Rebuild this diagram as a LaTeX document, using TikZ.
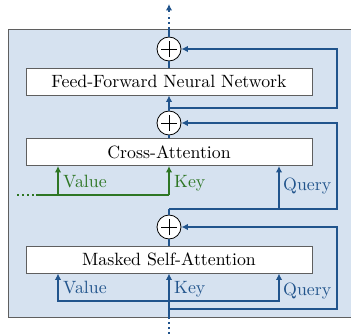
\documentclass[tikz,border=0pt]{standalone}
\usetikzlibrary{arrows.meta}
\definecolor{flowblue}{RGB}{33,84,140}
\definecolor{flowgreen}{RGB}{46,118,36}
\definecolor{panel}{RGB}{214,226,240}
\definecolor{rim}{RGB}{95,95,95}
% 10pt design size, enlarged, keeps the strokes heavy
\newcommand{\bigtxt}[1]{\scalebox{1.78}{#1}}
\begin{document}
\begin{tikzpicture}[x=1pt,y=-1pt,
  font=\fontsize{10}{12}\selectfont,
  layer/.style={draw=rim,line width=0.9pt,fill=white,minimum width=286pt,minimum height=27pt,inner sep=0pt},
  addop/.style={circle,draw=black,line width=0.8pt,fill=white,minimum size=24pt,inner sep=0pt},
  flow/.style={draw=flowblue,line width=1.5pt},
  gflow/.style={draw=flowgreen,line width=1.5pt},
  tip/.style={-{Latex[length=6.5pt,width=6.5pt]}},
  dotline/.style={line width=1.9pt,dash pattern=on 2pt off 3pt},
  lbl/.style={anchor=base west,inner sep=0pt,text=flowblue},
  glbl/.style={anchor=base west,inner sep=0pt,text=flowgreen}]
\useasboundingbox (0,0) rectangle (351,334);
\clip (0,0) rectangle (351,334);

% decoder block panel
\draw[rim,line width=0.9pt,fill=panel] (8,29) rectangle (365,317);

% sub-layers
\node[layer] (ffn) at (169,81.5) {\bigtxt{Feed-Forward Neural Network}};
\node[layer] (ca)  at (169,152)  {\bigtxt{Cross-Attention}};
\node[layer] (msa) at (169,259.5){\bigtxt{Masked Self-Attention}};

% residual additions
\node[addop] (p1) at (169,49)  {};
\node[addop] (p2) at (169,123) {};
\node[addop] (p3) at (169,227) {};
\foreach \p in {p1,p2,p3}{
  \draw[line width=0.8pt] ([xshift=-8pt]\p.center) -- ([xshift=8pt]\p.center);
  \draw[line width=0.8pt] ([yshift=-8pt]\p.center) -- ([yshift=8pt]\p.center);
}

% helper points
\coordinate (top)  at (169,29);
\coordinate (dend) at (169,14);
\coordinate (tstart) at (169,12);
\coordinate (outp) at (169,4);
\coordinate (bot)  at (169,317);
\coordinate (inp)  at (169,334);
\coordinate (j2)   at (169,108);
\coordinate (j3)   at (169,209);
\coordinate (j4)   at (169,309);
\coordinate (kv)   at (169,301);
\coordinate (rx)   at (337,0);
\coordinate (vx)   at (58,0);
\coordinate (qx)   at (279,0);
\coordinate (gy)   at (0,195);
\coordinate (gd1)  at (17,195);
\coordinate (gd2)  at (34,195);
\coordinate (gl)   at (36,195);

% output
\draw[flow] (p1.north) -- (top);
\draw[flow,dotline] (top) -- (dend);
\draw[flow,tip] (tstart) -- (outp);

% feed-forward sub-layer
\draw[flow] (ffn.north) -- (p1.south);
\draw[flow] (p2.north) -- (j2);
\draw[flow,tip] (j2) -- (ffn.south);
\draw[flow,tip] (j2) -- (j2 -| rx) -- (p1.east -| rx) -- (p1.east);

% cross-attention sub-layer
\draw[flow] (ca.north) -- (p2.south);
\draw[flow] (p3.north) -- (j3);
\draw[flow,tip] (j3) -- (j3 -| rx) -- (p2.east -| rx) -- (p2.east);
\draw[flow,tip] (j3 -| qx) -- (ca.south -| qx);
\node[lbl] (qca) at (283,190) {\bigtxt{Query}};

% encoder output (keys and values)
\draw[gflow,dotline] (gd1) -- (gd2);
\draw[gflow] (gl) -- (gy -| j3);
\draw[gflow,tip] (gy -| vx) -- (ca.south -| vx);
\draw[gflow,tip] (gy -| j3) -- (ca.south);
\node[glbl] (vca) at (63,188) {\bigtxt{Value}};
\node[glbl] (kca) at (174,188) {\bigtxt{Key}};

% masked self-attention sub-layer
\draw[flow] (msa.north) -- (p3.south);
\draw[flow,dotline] (inp) -- (bot);
\draw[flow,tip] (bot) -- (msa.south);
\draw[flow,tip] (j4) -- (j4 -| rx) -- (p3.east -| rx) -- (p3.east);
\draw[flow,tip] (kv) -- (kv -| vx) -- (msa.south -| vx);
\draw[flow,tip] (kv) -- (kv -| qx) -- (msa.south -| qx);
\node[lbl] (vmsa) at (63,293) {\bigtxt{Value}};
\node[lbl] (kmsa) at (174,293) {\bigtxt{Key}};
\node[lbl] (qmsa) at (283,295) {\bigtxt{Query}};
\end{tikzpicture}
\end{document}
